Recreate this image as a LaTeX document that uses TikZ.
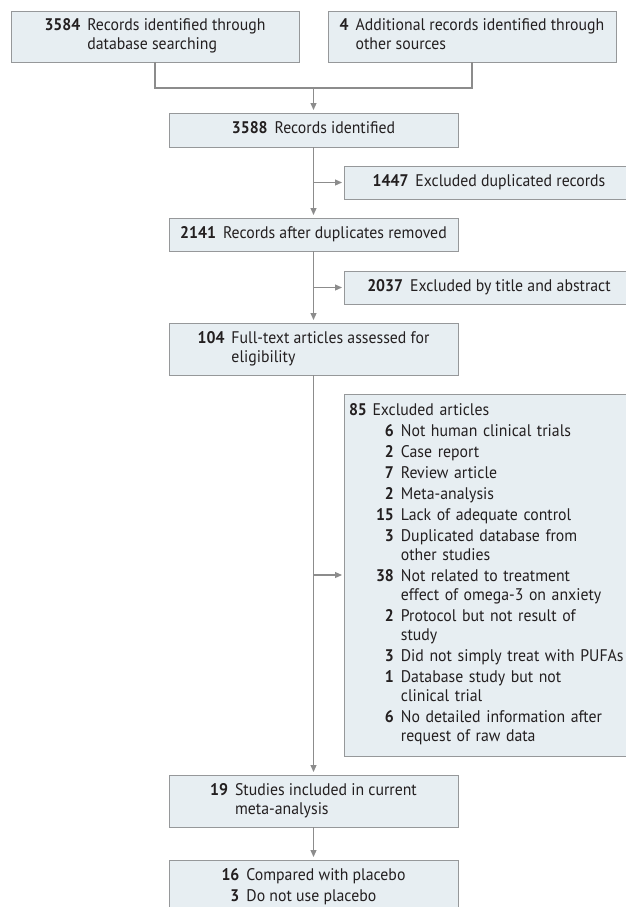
\documentclass[tikz,border=0pt]{standalone}
\usepackage{fontspec}
\setmainfont{PT Sans}[FakeStretch=0.94]
\usetikzlibrary{arrows.meta}
\definecolor{boxfill}{RGB}{231,238,242}
\definecolor{boxline}{RGB}{150,152,154}
\definecolor{linkgray}{RGB}{140,140,140}
\definecolor{inkblack}{RGB}{35,31,32}
\newcommand{\numline}[2]{\begin{tabular}{@{}r@{\hspace{7pt}}l@{}}\textbf{#1}&#2\end{tabular}}
\tikzset{
  flowbox/.style={draw=boxline, fill=boxfill, line width=0.9pt, inner sep=0pt, outer sep=0pt,
    text=inkblack, font=\fontsize{16.8}{19}\selectfont, minimum height=#1},
  flowbox/.default=34pt,
  link/.style={draw=linkgray, line width=1.1pt, -{Triangle[length=7pt,width=6pt]}, shorten >=3pt},
  plainlink/.style={draw=linkgray, line width=1.1pt}
}
\begin{document}
\begin{tikzpicture}[x=1pt,y=-1pt]
  \useasboundingbox (0,0) rectangle (626,907);
  %%%%% BOXES %%%%%
  \node[flowbox=51pt, minimum width=288pt] (dbsearch) at (155,36.5)
    {\numline{3584}{Records identified through\\&database searching}};
  \node[flowbox=51pt, minimum width=288pt] (othersrc) at (472,36.5)
    {\numline{4}{Additional records identified through\\&other sources}};
  \node[flowbox=34pt, minimum width=289pt] (ident) at (313.5,130)
    {\numline{3588}{Records identified}};
  \node[flowbox=33pt, minimum width=290pt, anchor=west] (dupl) at (344,182.5)
    {\numline{1447}{Excluded duplicated records}};
  \node[flowbox=33pt, minimum width=289pt] (afterdup) at (313.5,234.5)
    {\numline{2141}{Records after duplicates removed}};
  \node[flowbox=33pt, minimum width=290pt, anchor=west] (titleabs) at (344,287.5)
    {\numline{2037}{Excluded by title and abstract}};
  \node[flowbox=52pt, minimum width=289pt] (fulltext) at (313.5,349)
    {\numline{104}{Full-text articles assessed for\\&eligibility}};
  \node[flowbox=362pt, text width=278pt, inner xsep=5pt, align=left, anchor=west] (excl) at (344,575)
    {\begin{tabular}{@{\hspace{27pt}}r@{\hspace{7pt}}l@{}}
      \multicolumn{2}{@{}l@{}}{\textbf{85} Excluded articles}\\[2pt]
      \textbf{6}&Not human clinical trials\\[2pt]
      \textbf{2}&Case report\\[2pt]
      \textbf{7}&Review article\\[2pt]
      \textbf{2}&Meta-analysis\\[2pt]
      \textbf{15}&Lack of adequate control\\[2pt]
      \textbf{3}&Duplicated database from\\
      &other studies\\[2pt]
      \textbf{38}&Not related to treatment\\
      &effect of omega-3 on anxiety\\[2pt]
      \textbf{2}&Protocol but not result of\\
      &study\\[2pt]
      \textbf{3}&Did not simply treat with PUFAs\\[2pt]
      \textbf{1}&Database study but not\\
      &clinical trial\\[2pt]
      \textbf{6}&No detailed information after\\
      &request of raw data
    \end{tabular}};
  \node[flowbox=52pt, minimum width=289pt] (incl) at (313.5,801)
    {\numline{19}{Studies included in current\\&meta-analysis}};
  \node[flowbox=55pt, minimum width=289pt] (placebo) at (313.5,887.5)
    {\begin{tabular}{@{}r@{\hspace{7pt}}l@{}}
      \textbf{16}&Compared with placebo\\[2pt]
      \textbf{3}&Do not use placebo
    \end{tabular}};
  %%%%% LINKS %%%%%
  \coordinate (merge) at (ident.north |- 0,88);
  \draw[plainlink] (dbsearch.south) |- (merge) -| (othersrc.south);
  \draw[link] (merge) -- (ident.north);
  \draw[link] (ident.south) -- (afterdup.north);
  \draw[link, shorten >=2pt] (ident.south |- dupl.west) -- (dupl.west);
  \draw[link] (afterdup.south) -- (fulltext.north);
  \draw[link, shorten >=2pt] (afterdup.south |- titleabs.west) -- (titleabs.west);
  \draw[link] (fulltext.south) -- (incl.north);
  \draw[link, shorten >=2pt] (fulltext.south |- excl.west) -- (excl.west);
  \draw[link] (incl.south) -- (placebo.north);
\end{tikzpicture}
\end{document}
